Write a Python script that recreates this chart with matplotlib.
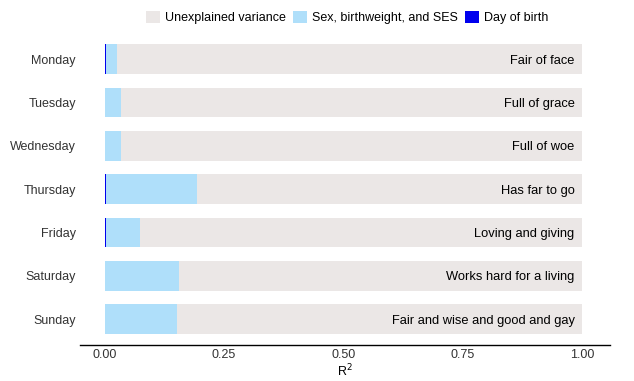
import matplotlib.pyplot as plt
import numpy as np

plt.rcParams['font.family'] = ['Liberation Sans', 'DejaVu Sans']

days = ["Monday", "Tuesday", "Wednesday", "Thursday", "Friday", "Saturday", "Sunday"]
rhymes = ["Fair of face", "Full of grace", "Full of woe", "Has far to go",
          "Loving and giving", "Works hard for a living", "Fair and wise and good and gay"]
day_of_birth = [0.003, 0.0, 0.0, 0.003, 0.003, 0.0, 0.0]
sex_bw_ses = [0.022, 0.034, 0.035, 0.190, 0.072, 0.155, 0.151]

col_unexpl = "#ebe7e6"
col_ses = "#afdffa"
col_dob = "#0000ee"

dob = np.array(day_of_birth)
ses = np.array(sex_bw_ses)
unexpl = 1.0 - dob - ses
y = np.arange(len(days))
h = 0.69

fig = plt.figure(figsize=(6.34, 3.81), dpi=100)
ax = fig.add_axes([0.126, 0.094, 0.836, 0.819])

ax.barh(y, dob, height=h, color=col_dob, label="Day of birth")
ax.barh(y, ses, left=dob, height=h, color=col_ses, label="Sex, birthweight, and SES")
ax.barh(y, unexpl, left=dob + ses, height=h, color=col_unexpl, label="Unexplained variance")

for yi, txt in zip(y, rhymes):
    ax.text(0.985, yi, txt, ha="right", va="center_baseline", fontsize=9.3, color="black")

ax.set_xlim(-0.052, 1.059)
ax.set_ylim(6.6, -0.6)
ax.set_yticks(y, days)
ax.set_xticks([0, 0.25, 0.5, 0.75, 1.0], ["0.00", "0.25", "0.50", "0.75", "1.00"])
ax.tick_params(axis="both", length=0, labelsize=9, colors="#333333")
ax.tick_params(axis="y", pad=3)
ax.tick_params(axis="x", pad=3)
for s in ["top", "right", "left"]:
    ax.spines[s].set_visible(False)
ax.spines["bottom"].set_color("black")
ax.spines["bottom"].set_linewidth(1.0)
ax.set_xlabel("R$^2$", fontsize=9, labelpad=1)

handles, labels = ax.get_legend_handles_labels()
fig.legend(handles[::-1], labels[::-1], loc="upper center", bbox_to_anchor=(0.548, 1.0),
           ncol=3, frameon=False, fontsize=9, handlelength=1.1, handleheight=1.1,
           handletextpad=0.4, columnspacing=0.6)

fig.savefig("out.png", dpi=100)
